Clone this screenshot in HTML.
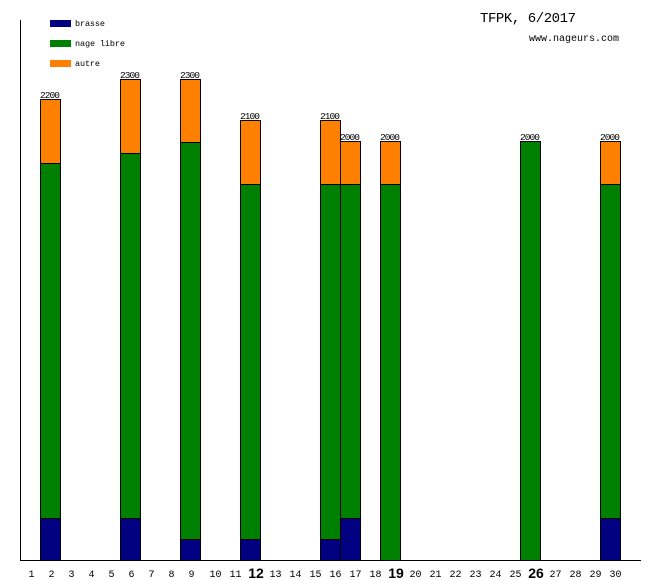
<!DOCTYPE html>
<html><head><meta charset="utf-8"><style>
html,body{margin:0;padding:0;background:#fff;}
svg{display:block;}
text{font-family:"Liberation Mono",monospace;fill:#000;}
</style></head><body>
<svg width="660" height="580" viewBox="0 0 660 580" xmlns="http://www.w3.org/2000/svg" shape-rendering="crispEdges">
<rect width="660" height="580" fill="#fff"/>
<!-- legend -->
<rect x="50" y="20" width="21" height="7" fill="#000080"/>
<rect x="50" y="40" width="21" height="7" fill="#008000"/>
<rect x="50" y="60" width="21" height="7" fill="#ff8000"/>
<text x="75" y="26" font-size="8.5" textLength="30">brasse</text>
<text x="75" y="46" font-size="8.5" textLength="50">nage libre</text>
<text x="75" y="66" font-size="8.5" textLength="25">autre</text>
<!-- title -->
<text x="480" y="22" font-size="14" textLength="96">TFPK, 6/2017</text>
<text x="529" y="41" font-size="10" textLength="90">www.nageurs.com</text>
<!-- axes -->
<line x1="20.5" y1="20" x2="20.5" y2="561" stroke="#000" stroke-width="1"/>
<line x1="20" y1="560.5" x2="641" y2="560.5" stroke="#000" stroke-width="1"/>
<g stroke="#000" stroke-width="1">
<!-- day 2 -->
<rect x="40.5" y="99.5" width="20" height="64" fill="#ff8000"/>
<rect x="40.5" y="163.5" width="20" height="355" fill="#008000"/>
<rect x="40.5" y="518.5" width="20" height="42" fill="#000080"/>
<!-- day 6 -->
<rect x="120.5" y="79.5" width="20" height="74" fill="#ff8000"/>
<rect x="120.5" y="153.5" width="20" height="365" fill="#008000"/>
<rect x="120.5" y="518.5" width="20" height="42" fill="#000080"/>
<!-- day 9 -->
<rect x="180.5" y="79.5" width="20" height="63" fill="#ff8000"/>
<rect x="180.5" y="142.5" width="20" height="397" fill="#008000"/>
<rect x="180.5" y="539.5" width="20" height="21" fill="#000080"/>
<!-- day 12 -->
<rect x="240.5" y="120.5" width="20" height="64" fill="#ff8000"/>
<rect x="240.5" y="184.5" width="20" height="355" fill="#008000"/>
<rect x="240.5" y="539.5" width="20" height="21" fill="#000080"/>
<!-- day 16 -->
<rect x="320.5" y="120.5" width="20" height="64" fill="#ff8000"/>
<rect x="320.5" y="184.5" width="20" height="355" fill="#008000"/>
<rect x="320.5" y="539.5" width="20" height="21" fill="#000080"/>
<!-- day 17 -->
<rect x="340.5" y="141.5" width="20" height="43" fill="#ff8000"/>
<rect x="340.5" y="184.5" width="20" height="334" fill="#008000"/>
<rect x="340.5" y="518.5" width="20" height="42" fill="#000080"/>
<!-- day 19 -->
<rect x="380.5" y="141.5" width="20" height="43" fill="#ff8000"/>
<rect x="380.5" y="184.5" width="20" height="376" fill="#008000"/>
<!-- day 26 -->
<rect x="520.5" y="141.5" width="20" height="419" fill="#008000"/>
<!-- day 30 -->
<rect x="600.5" y="141.5" width="20" height="43" fill="#ff8000"/>
<rect x="600.5" y="184.5" width="20" height="334" fill="#008000"/>
<rect x="600.5" y="518.5" width="20" height="42" fill="#000080"/>
</g>
<!-- value labels -->
<g font-size="9.5">
<text x="40" y="98" textLength="20">2200</text>
<text x="120" y="78" textLength="20">2300</text>
<text x="180" y="78" textLength="20">2300</text>
<text x="240" y="119" textLength="20">2100</text>
<text x="320" y="119" textLength="20">2100</text>
<text x="340" y="140" textLength="20">2000</text>
<text x="380" y="140" textLength="20">2000</text>
<text x="520" y="140" textLength="20">2000</text>
<text x="600" y="140" textLength="20">2000</text>
</g>
<!-- x labels -->
<g font-size="10" text-anchor="middle">
<text x="31.5" y="577">1</text>
<text x="51.5" y="577">2</text>
<text x="71.5" y="577">3</text>
<text x="91.5" y="577">4</text>
<text x="111.5" y="577">5</text>
<text x="131.5" y="577">6</text>
<text x="151.5" y="577">7</text>
<text x="171.5" y="577">8</text>
<text x="191.5" y="577">9</text>
<text x="215.5" y="577">10</text>
<text x="235.5" y="577">11</text>
<text x="275.5" y="577">13</text>
<text x="295.5" y="577">14</text>
<text x="315.5" y="577">15</text>
<text x="335.5" y="577">16</text>
<text x="355.5" y="577">17</text>
<text x="375.5" y="577">18</text>
<text x="415.5" y="577">20</text>
<text x="435.5" y="577">21</text>
<text x="455.5" y="577">22</text>
<text x="475.5" y="577">23</text>
<text x="495.5" y="577">24</text>
<text x="515.5" y="577">25</text>
<text x="555.5" y="577">27</text>
<text x="575.5" y="577">28</text>
<text x="595.5" y="577">29</text>
<text x="615.5" y="577">30</text>
</g>
<g font-size="14" font-weight="bold" text-anchor="middle" style="font-family:'Liberation Sans',sans-serif">
<text x="256" y="578" style="font-family:'Liberation Sans',sans-serif">12</text>
<text x="396" y="578" style="font-family:'Liberation Sans',sans-serif">19</text>
<text x="536" y="578" style="font-family:'Liberation Sans',sans-serif">26</text>
</g>
</svg>
</body></html>
